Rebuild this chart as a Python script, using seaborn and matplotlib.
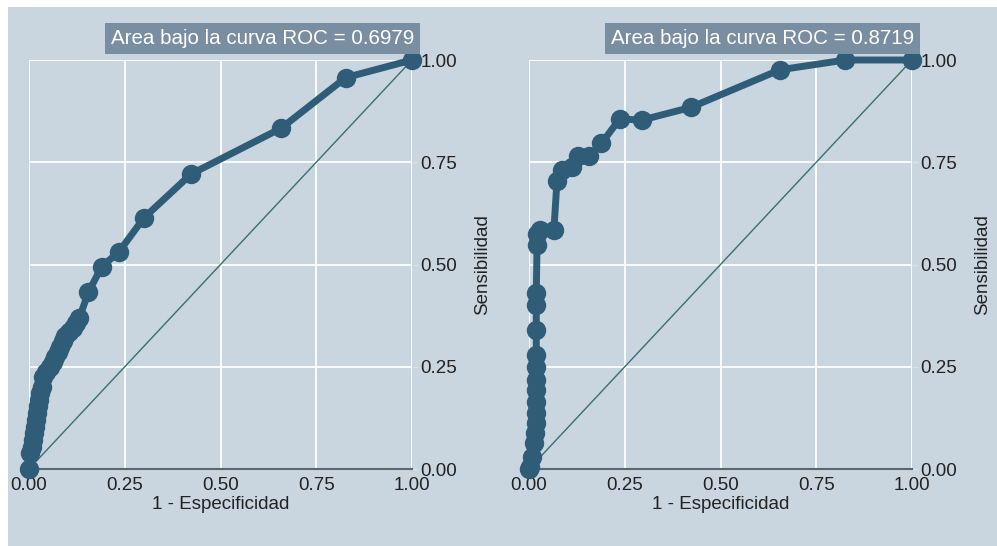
# %%
import numpy as np
import matplotlib.pyplot as plt
import seaborn as sns
import pandas as pd
from matplotlib.patches import Rectangle

# %% data
left_fpr = [0, 0.003, 0.008, 0.011, 0.014, 0.016, 0.018, 0.020, 0.023, 0.027, 0.029,
            0.033, 0.037, 0.045, 0.055, 0.062, 0.068, 0.075, 0.081, 0.088, 0.094,
            0.104, 0.114, 0.122, 0.131, 0.155, 0.190, 0.235, 0.300, 0.423, 0.658,
            0.827, 1.0]
left_tpr = [0, 0.039, 0.055, 0.071, 0.087, 0.103, 0.120, 0.137, 0.153, 0.169, 0.185,
            0.201, 0.226, 0.238, 0.250, 0.262, 0.275, 0.287, 0.299, 0.312, 0.324,
            0.334, 0.344, 0.356, 0.368, 0.432, 0.495, 0.531, 0.614, 0.721, 0.833,
            0.957, 1.0]

right_fpr = [0, 0.003, 0.008, 0.012, 0.015, 0.017, 0.017, 0.018, 0.018, 0.018, 0.018,
             0.019, 0.019, 0.019, 0.019, 0.021, 0.021, 0.029, 0.065, 0.073, 0.087,
             0.113, 0.128, 0.157, 0.189, 0.237, 0.294, 0.422, 0.655, 0.826, 1.0]
right_tpr = [0, 0.005, 0.030, 0.063, 0.087, 0.112, 0.136, 0.165, 0.193, 0.218, 0.250,
             0.279, 0.340, 0.401, 0.430, 0.548, 0.575, 0.584, 0.584, 0.703, 0.731,
             0.739, 0.765, 0.765, 0.796, 0.856, 0.853, 0.884, 0.976, 1.0, 1.0]

auc_labels = ['Area bajo la curva ROC = 0.6979', 'Area bajo la curva ROC = 0.8719']
ticks = [0, 0.25, 0.5, 0.75, 1.0]
tick_labels = ['0.00', '0.25', '0.50', '0.75', '1.00']

# %% style
sns.set_style('white')
plt.rcParams['font.family'] = ['Liberation Sans', 'DejaVu Sans']

bg = '#c9d6e0'
curve_color = '#2f5d78'
diag_color = '#3b6e70'
box_color = '#7a8ea2'

fig = plt.figure(figsize=(9.97, 5.46), dpi=100)
fig.patch.set_facecolor('white')
fig.patches.append(Rectangle((8 / 997, 0), 1, 539 / 546, transform=fig.transFigure,
                             facecolor=bg, edgecolor='none', zorder=-10))

panels = [
    (left_fpr, left_tpr, auc_labels[0], 29 / 997),
    (right_fpr, right_tpr, auc_labels[1], 529 / 997),
]

for fpr, tpr, label, left in panels:
    ax = fig.add_axes([left, 77 / 546, 383 / 997, 409 / 546])
    ax.set_facecolor(bg)
    df = pd.DataFrame({'fpr': fpr, 'tpr': tpr})

    ax.plot([0, 1], [0, 1], color=diag_color, linewidth=1.0, zorder=2)
    sns.lineplot(data=df, x='fpr', y='tpr', sort=False, estimator=None, ax=ax,
                 color=curve_color, linewidth=5, marker='o', markersize=14,
                 markeredgewidth=0, clip_on=False, zorder=3)

    ax.set_xlim(0, 1)
    ax.set_ylim(0, 1)
    ax.set_xticks(ticks)
    ax.set_xticklabels(tick_labels)
    ax.set_yticks(ticks)
    ax.set_yticklabels(tick_labels)
    ax.yaxis.tick_right()
    ax.yaxis.set_label_position('right')
    ax.grid(True, color='white', linewidth=1.3)
    ax.set_axisbelow(True)
    for side in ['top', 'left', 'right']:
        ax.spines[side].set_visible(False)
    ax.spines['bottom'].set_color('#5a6670')
    ax.spines['bottom'].set_linewidth(1.5)
    ax.tick_params(axis='both', labelsize=13.5, colors='#222222', length=4,
                   width=1, pad=2, color='#d8e2ea')
    ax.set_xlabel('1 - Especificidad', fontsize=13.5, color='#222222', labelpad=1)
    ax.set_ylabel('Sensibilidad', fontsize=13.5, color='#222222', labelpad=12)

    ax.text(1.005, 1.052, label, transform=ax.transAxes, ha='right', va='center',
            fontsize=14.8, color='white',
            bbox=dict(boxstyle='square,pad=0.28', facecolor=box_color,
                      edgecolor='none'))

fig.savefig('out.png', dpi=100, facecolor=fig.get_facecolor())
